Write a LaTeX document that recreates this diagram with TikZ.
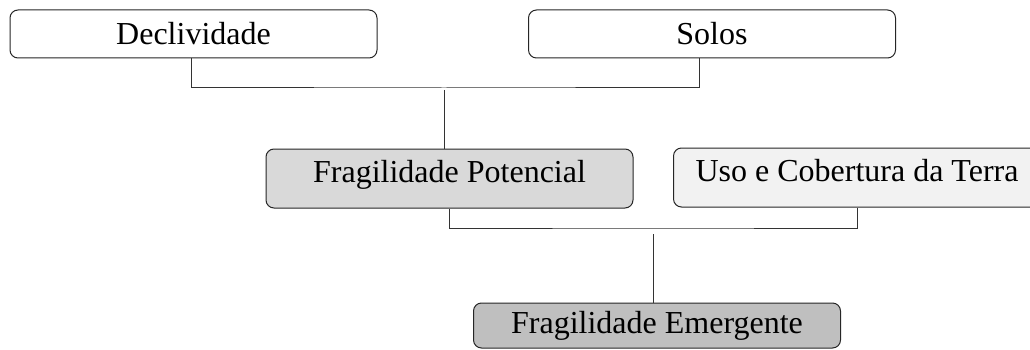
\documentclass[tikz,border=0pt]{standalone}
\usepackage{fontspec}
\setmainfont{Liberation Serif}
\usetikzlibrary{calc}
\definecolor{cinzaA}{HTML}{D9D9D9}
\definecolor{cinzaB}{HTML}{F2F2F2}
\definecolor{cinzaC}{HTML}{BFBFBF}
\begin{document}
\begin{tikzpicture}[x=1pt,y=-1pt,
    caixa/.style={draw=black!85, rounded corners=8pt, line width=1pt, minimum width=367pt, inner sep=0pt, font=\fontsize{32}{38}\selectfont},
    alta/.style={minimum height=59pt, text height=23pt, text depth=16pt},
    liga/.style={draw=black!80, line width=1pt}]
    \useasboundingbox (0,0) rectangle (1030,350);
    % boxes
    \node[caixa, fill=white, minimum height=48pt] (decl) at (193.5,34) {Declividade};
    \node[caixa, fill=white, minimum height=48pt] (solos) at (712,34) {Solos};
    \node[caixa, alta, fill=cinzaA] (pot) at (449.5,178.5) {Fragilidade Potencial};
    \node[caixa, alta, fill=cinzaB] (uso) at (857,177.5) {Uso e Cobertura da Terra};
    \node[caixa, fill=cinzaC, minimum height=45pt] (emerg) at (657,325.5) {Fragilidade Emergente};
    % junctions
    \coordinate (barT) at (444,88);
    \coordinate (barTgap) at (444,90);
    \coordinate (barB) at (653,228);
    \coordinate (barBgap) at (653,234);
    % connectors
    \draw[liga] ([xshift=-2.5pt]decl.south) |- (barT) -| ([xshift=-13pt]solos.south);
    \draw[liga] (barTgap) -- (barTgap |- pot.north);
    \draw[liga] (pot.south) |- (barB) -| (uso.south);
    \draw[liga] (barBgap) -- (barBgap |- emerg.north);
\end{tikzpicture}
\end{document}
